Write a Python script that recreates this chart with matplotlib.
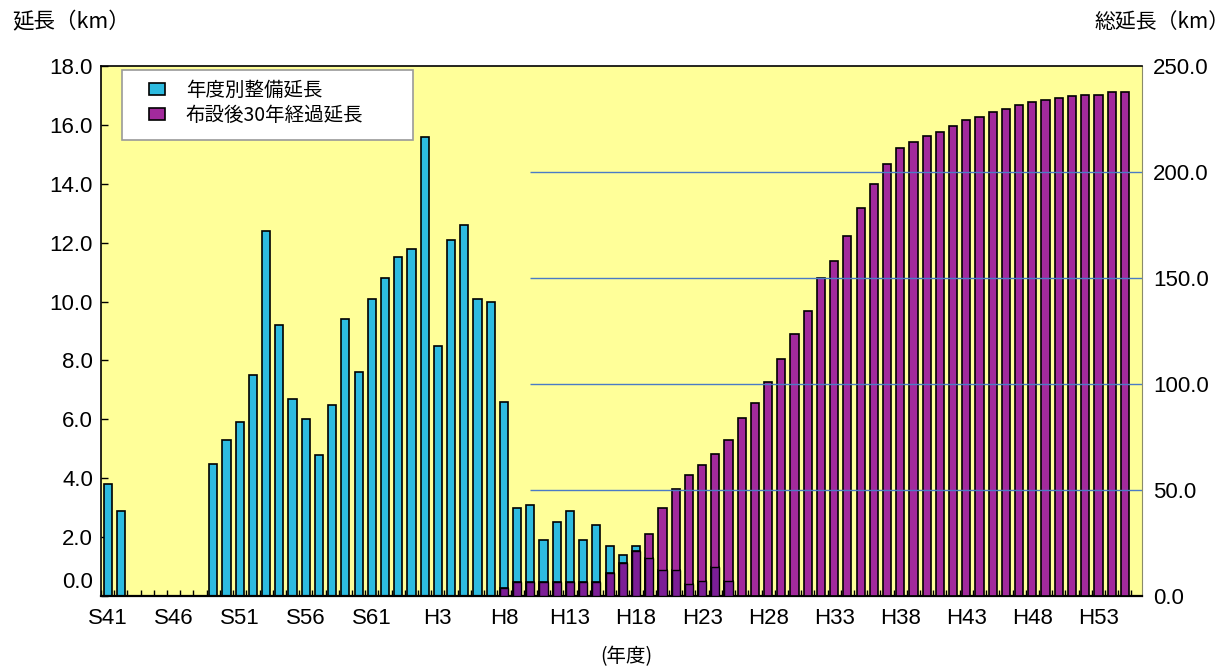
import matplotlib
matplotlib.use("Agg")

import numpy as np
import matplotlib.pyplot as plt
from matplotlib.patches import Patch, Rectangle

# ============================================================
# DATA
# ============================================================

# fiscal years S41 (1966) ... S63, H1 ... H55 (2043)
fiscal_years = [f"S{n}" for n in range(41, 64)] + [f"H{n}" for n in range(1, 56)]

# annual length laid (km, left axis), S41 ... H25
annual_km = [
    3.8, 2.9, 0.0, 0.0, 0.0, 0.0, 0.0, 0.0, 4.5, 5.3,
    5.9, 7.5, 12.4, 9.2, 6.7, 6.0, 4.8, 6.5, 9.4, 7.6,
    10.1, 10.8, 11.5, 11.8, 15.6, 8.5, 12.1, 12.6, 10.1, 10.0,
    6.6, 3.0, 3.1, 1.9, 2.5, 2.9, 1.9, 2.4, 1.7, 1.4,
    1.7, 1.3, 0.9, 0.9, 0.4, 0.5, 1.0, 0.5,
]

# cumulative length older than 30 years (km, right axis), S41 ... H55
aged_total_km = [
    0.0, 0.0, 0.0, 0.0, 0.0, 0.0, 0.0, 0.0, 0.0, 0.0,
    0.0, 0.0, 0.0, 0.0, 0.0, 0.0, 0.0, 0.0, 0.0, 0.0,
    0.0, 0.0, 0.0, 0.0, 0.0, 0.0, 0.0, 0.0, 0.0, 0.0,
    4.0, 6.7, 6.7, 6.7, 6.7, 6.7, 6.7, 6.7, 11.0, 15.7,
    21.4, 29.2, 41.5, 50.3, 57.1, 61.8, 67.1, 73.6, 84.1, 91.0,
    101.0, 112.0, 123.4, 134.6, 149.9, 158.0, 169.8, 183.2, 194.5, 203.9,
    211.5, 214.2, 217.1, 218.9, 221.5, 224.5, 225.8, 228.1, 229.7, 231.4,
    232.9, 234.1, 234.9, 235.7, 236.3, 236.3, 237.6, 237.9,
]

x_tick_labels = ["S41", "S46", "S51", "S56", "S61", "H3", "H8", "H13",
                 "H18", "H23", "H28", "H33", "H38", "H43", "H48", "H53"]

left_ticks = [0, 2, 4, 6, 8, 10, 12, 14, 16, 18]
right_ticks = [0, 50, 100, 150, 200, 250]
grid_levels = [50, 100, 150, 200]

legend_labels = ["年度別整備延長", "布設後30年経過延長"]

# ============================================================
# STYLE
# ============================================================
W, H = 1232, 672
YELLOW = "#FFFF99"
CYAN = "#2DBBE0"
PURPLE = "#A22A9C"
DARK_PURPLE = "#7C1E96"
GRID_BLUE = "#4A7BC6"
FONT = ["Liberation Sans", "Noto Sans CJK JP"]
JP_FONT = ["Noto Sans CJK JP", "DejaVu Sans"]

plt.rcParams["font.family"] = FONT

L_MAX = 18.0
R_MAX = 250.0
bar_w = 0.62
grid_start = 32.0

fig = plt.figure(figsize=(W / 100, H / 100), dpi=100)
ax = fig.add_axes([101 / W, 1 - 596 / H, (1142 - 101) / W, (596 - 66) / H])
ax2 = ax.twinx()

n = len(fiscal_years)
idx = np.arange(n)
annual = np.zeros(n)
annual[:len(annual_km)] = annual_km
aged = np.array(aged_total_km)

# left axis: annual lengths
ax.set_facecolor(YELLOW)
ax.bar(idx, annual, width=bar_w, color=CYAN, edgecolor="black", linewidth=1.2, zorder=2)
ax.set_xlim(-0.5, 78.3)
ax.set_ylim(0, L_MAX)

# right axis: cumulative aged length, darker where it covers the cyan bars
ax2.patch.set_visible(False)
ax2.bar(idx, aged, width=bar_w, color=PURPLE, edgecolor="black", linewidth=1.2, zorder=2)
overlap = np.minimum(annual * R_MAX / L_MAX, aged)
ax2.bar(idx, overlap, width=bar_w, color=DARK_PURPLE, edgecolor="black", linewidth=1.0, zorder=3)
ax2.hlines(grid_levels, grid_start, 78.3, color=GRID_BLUE, linewidth=1.0, zorder=4)
ax2.set_ylim(0, R_MAX)
ax2.set_xlim(ax.get_xlim())

# ticks
ax.set_yticks(left_ticks)
ax.set_yticklabels([""] + [f"{v:.1f}" for v in left_ticks[1:]])
ax.tick_params(axis="y", direction="in", length=5, width=1, pad=5.8, labelsize=16)
ax.annotate("0.0", xy=(0, 0), xycoords=("axes fraction", "data"),
            xytext=(-8, 13), textcoords="offset pixels",
            ha="right", va="center", fontsize=16)

ax.set_xticks([fiscal_years.index(t) for t in x_tick_labels])
ax.set_xticklabels(x_tick_labels)
ax.set_xticks(np.arange(-0.5, n, 1.0), minor=True)
ax.tick_params(axis="x", which="major", length=0, pad=9, labelsize=16)
ax.tick_params(axis="x", which="minor", direction="in", length=4.3, width=1)

ax2.set_yticks(right_ticks)
ax2.set_yticklabels([f"{v:.1f}" for v in right_ticks])
ax2.tick_params(axis="y", length=0, pad=8, labelsize=16)

for s in ["left", "top", "bottom"]:
    ax.spines[s].set_color("black")
ax.spines["left"].set_linewidth(1.2)
ax.spines["top"].set_linewidth(1.2)
ax.spines["bottom"].set_linewidth(1.6)
ax.spines["right"].set_color("#8a8a6a")
for s in ax2.spines.values():
    s.set_visible(False)

# axis titles
fig.text(12 / W, 1 - 22 / H, "延長（km）", ha="left", va="center",
         fontsize=15.5, family=JP_FONT)
fig.text(1230 / W, 1 - 22 / H, "総延長（km）", ha="right", va="center",
         fontsize=15, family=JP_FONT)
fig.text(626 / W, 1 - 657 / H, "(年度)", ha="center", va="center",
         fontsize=14, family=JP_FONT)

# legend
fig.add_artist(Rectangle((122 / W, 1 - 140 / H), (413 - 122) / W, 70 / H,
                         transform=fig.transFigure, facecolor="white",
                         edgecolor="#9a9a9a", linewidth=1.2, zorder=4))
handles = [Patch(facecolor=CYAN, edgecolor="black", linewidth=1.2),
           Patch(facecolor=PURPLE, edgecolor="black", linewidth=1.2)]
fig.legend(handles, legend_labels, loc="upper left",
           bbox_to_anchor=(145 / W, 1 - 76 / H), frameon=False,
           borderpad=0.2, borderaxespad=0, handlelength=0.85, handleheight=0.6,
           handletextpad=1.05, labelspacing=0.22,
           prop={"family": JP_FONT, "size": 14})

fig.savefig("out.png", dpi=100)
